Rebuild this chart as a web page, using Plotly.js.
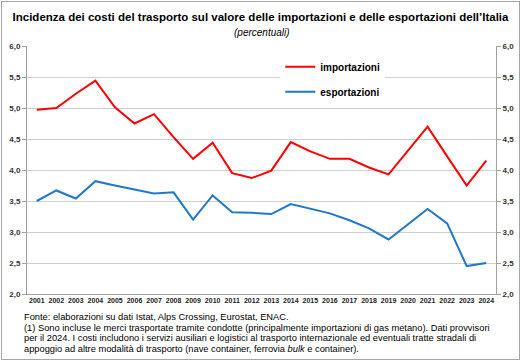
<!DOCTYPE html>
<html>
<head>
<meta charset="utf-8">
<script src="https://cdn.plot.ly/plotly-3.0.1.min.js"></script>
<style>
html,body{margin:0;padding:0;background:#fff;}
#wrap{position:relative;width:521px;height:361px;}
#chart{width:521px;height:361px;}
#frame{position:absolute;left:1px;top:1px;width:517px;height:357px;border:1px solid #a6a6a6;pointer-events:none;}
</style>
</head>
<body>
<div id="wrap"><div id="chart"></div><div id="frame"></div></div>
<script>
var years = ['2001','2002','2003','2004','2005','2006','2007','2008','2009','2010','2011','2012',
             '2013','2014','2015','2016','2017','2018','2019','2020','2021','2022','2023','2024'];
var importazioni = [4.97,5.00,5.23,5.44,5.01,4.75,4.90,4.53,4.18,4.44,3.95,3.87,
                    3.99,4.45,4.30,4.18,4.18,4.04,3.93,4.32,4.70,4.22,3.75,4.15];
var esportazioni = [3.50,3.67,3.54,3.82,3.75,3.68,3.62,3.64,3.20,3.59,3.32,3.31,
                    3.29,3.45,3.37,3.30,3.19,3.06,2.88,3.12,3.37,3.14,2.45,2.50];
var seriesNames = ['importazioni','esportazioni'];
var yTicks = [2.0,2.5,3.0,3.5,4.0,4.5,5.0,5.5,6.0];
var noteLines = [
  'Fonte: elaborazioni su dati Istat, Alps Crossing, Eurostat, ENAC.',
  '(1) Sono incluse le merci trasportate tramite condotte (principalmente importazioni di gas metano). Dati provvisori',
  'per il 2024. I costi includono i servizi ausiliari e logistici al trasporto internazionale ed eventuali tratte stradali di',
  'appoggio ad altre modalit\u00e0 di trasporto (nave container, ferrovia <i>bulk</i> e container).'
];

var FONT = 'Liberation Sans, Arial, sans-serif';

var traces = [
  {x: years, y: importazioni, name: seriesNames[0], type: 'scatter', mode: 'lines',
   line: {color: '#ff0000', width: 2}, legendgroup: 'a'},
  {x: years, y: esportazioni, name: seriesNames[1], type: 'scatter', mode: 'lines',
   line: {color: '#1f78c8', width: 2}, legendgroup: 'b'},
  // carrier for the right-hand duplicate value axis (draws nothing)
  {x: years, y: esportazioni, yaxis: 'y2', type: 'scatter', mode: 'lines',
   line: {color: 'rgba(0,0,0,0)', width: 0}, opacity: 0, showlegend: false, hoverinfo: 'skip'}
];

var yaxisCommon = {
  range: [2, 6], autorange: false, tickvals: yTicks, tickformat: '.1f',
  ticks: 'outside', ticklen: 4, tickcolor: '#a0a0a0',
  showline: true, linecolor: '#a0a0a0', linewidth: 1,
  tickfont: {family: FONT, size: 8, color: '#333', weight: 'bold'},
  zeroline: false, fixedrange: true
};

var annotations = [
  {text: '<i>(percentuali)</i>', xref: 'paper', yref: 'paper', x: 0.5, y: (294-33)/248,
   xanchor: 'center', yanchor: 'middle', showarrow: false,
   font: {family: FONT, size: 10, color: '#000'}}
];
noteLines.forEach(function (t, i) {
  annotations.push({text: t, xref: 'paper', yref: 'paper',
    x: (22-27)/469, y: (294-(317 + i*10.5))/248,
    xanchor: 'left', yanchor: 'middle', align: 'left', showarrow: false,
    font: {family: FONT, size: 9.3, color: '#000'}});
});

var layout = {
  width: 521, height: 361,
  margin: {l: 27, r: 25, t: 46, b: 67},
  paper_bgcolor: '#ffffff', plot_bgcolor: '#ffffff',
  separators: ',.',
  font: {family: FONT, color: '#000'},
  title: {text: '<b>Incidenza dei costi del trasporto sul valore delle importazioni e delle esportazioni dell\u2019Italia</b>',
          font: {family: FONT, size: 11.5, color: '#000'}, x: 0.5, xanchor: 'center',
          y: 1 - 17/361, yanchor: 'middle'},
  xaxis: {type: 'category', range: [-0.5, 23.5], autorange: false, showgrid: false, ticks: '',
          showline: true, linecolor: '#a0a0a0',
          tickfont: {family: FONT, size: 7, color: '#222', weight: 'bold'}, tickangle: 0,
          fixedrange: true},
  yaxis: Object.assign({}, yaxisCommon, {showgrid: true, gridcolor: '#cfcfcf', gridwidth: 1, side: 'left'}),
  yaxis2: Object.assign({}, yaxisCommon, {overlaying: 'y', side: 'right', showgrid: false}),
  showlegend: true,
  legend: {x: 0.54, y: 0.975, xanchor: 'left', yanchor: 'top', bgcolor: '#ffffff',
           font: {family: FONT, size: 10, color: '#000', weight: 'bold'},
           tracegroupgap: 6, borderwidth: 0},
  annotations: annotations
};

Plotly.newPlot('chart', traces, layout, {displayModeBar: false, staticPlot: true});
</script>
</body>
</html>
